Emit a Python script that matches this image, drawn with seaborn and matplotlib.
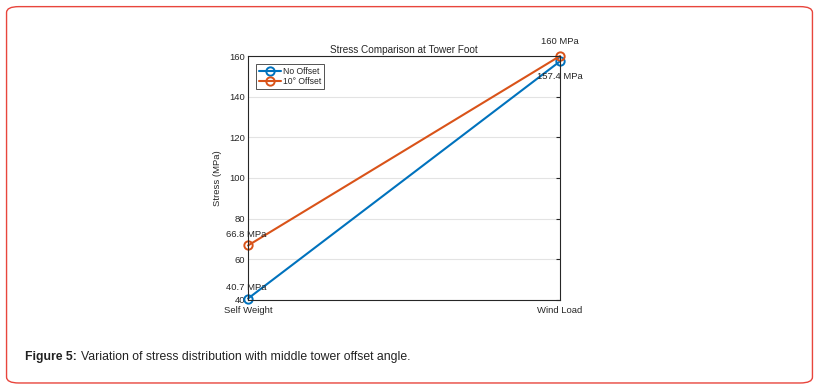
import matplotlib
matplotlib.use('Agg')
import matplotlib.pyplot as plt
from matplotlib.patches import FancyBboxPatch
from matplotlib.lines import Line2D
import seaborn as sns
import pandas as pd

# 数据
load_cases = ['Self Weight', 'Wind Load']
no_offset = [40.7, 157.4]
offset_10 = [66.8, 160.0]
series_names = ['No Offset', '10° Offset']
colors = ['#0072BD', '#D95319']

df = pd.DataFrame({
    'case': load_cases * 2,
    'pos': [0, 1] * 2,
    'stress': no_offset + offset_10,
    'series': [series_names[0]] * 2 + [series_names[1]] * 2,
})

sns.set_style('white')
plt.rcParams['font.family'] = ['Liberation Sans', 'DejaVu Sans']

fig = plt.figure(figsize=(8.19, 3.9), dpi=100)
ax = fig.add_axes([0.3028, 0.2308, 0.381, 0.6256])

sns.lineplot(data=df, x='pos', y='stress', hue='series', palette=colors,
             marker='o', markersize=6, linewidth=1.5, ax=ax, legend=False)
for line, c in zip(ax.get_lines(), colors):
    line.set_markeredgecolor(c)
    line.set_markerfacecolor('none')
    line.set_markeredgewidth(1.4)
    line.set_clip_on(False)

ax.set_xlim(0, 1)
ax.set_ylim(40, 160)
ax.set_xticks([0, 1])
ax.set_xticklabels(load_cases)
ax.set_yticks([40, 60, 80, 100, 120, 140, 160])
ax.yaxis.grid(True, color='#e3e3e3', linewidth=0.8)
ax.set_axisbelow(True)
ax.tick_params(axis='both', direction='in', length=3, labelsize=6.8, colors='#262626',
               top=False, right=True, pad=2)
ax.tick_params(axis='x', pad=4)
for s in ax.spines.values():
    s.set_color('#262626')
    s.set_linewidth(0.8)
ax.set_xlabel('')
ax.set_ylabel('Stress (MPa)', fontsize=6.8, color='#262626', labelpad=5)
ax.set_title('Stress Comparison at Tower Foot', fontsize=7.2, color='#262626', pad=2)

# 数值标注
ax.text(1, offset_10[1] + 5, '%g MPa' % offset_10[1], fontsize=6.8, ha='center', va='bottom', color='#262626')
ax.text(0.925, no_offset[1] - 7.5, '%g MPa' % no_offset[1], fontsize=6.8, ha='left', va='center', color='#262626')
ax.text(-0.07, offset_10[0] + 5.5, '%g MPa' % offset_10[0], fontsize=6.8, ha='left', va='center', color='#262626')
ax.text(-0.07, no_offset[0] + 5.5, '%g MPa' % no_offset[0], fontsize=6.8, ha='left', va='center', color='#262626')

handles = [Line2D([], [], color=c, linewidth=1.5, marker='o', markersize=6,
                  markerfacecolor='none', markeredgecolor=c, markeredgewidth=1.4) for c in colors]
leg = ax.legend(handles, series_names, loc='upper left', fontsize=6.2, frameon=True, fancybox=False,
                handlelength=2.6, borderpad=0.3, labelspacing=0.2, handletextpad=0.2,
                bbox_to_anchor=(0.012, 0.985))
leg.get_frame().set_edgecolor('#262626')
leg.get_frame().set_linewidth(0.7)

# 外框和图注
border = FancyBboxPatch((0.008, 0.018), 0.984, 0.965, boxstyle='round,pad=0,rounding_size=0.015',
                        transform=fig.transFigure, facecolor='none', edgecolor='#E8453C', linewidth=1.0)
fig.patches.append(border)
t1 = fig.text(0.031, 0.085, 'Figure 5:', fontsize=8.8, fontweight='bold', color='#222222', va='center')
fig.canvas.draw()
bb = t1.get_window_extent().transformed(fig.transFigure.inverted())
fig.text(bb.x1 + 0.004, 0.085, 'Variation of stress distribution with middle tower offset angle.',
         fontsize=8.8, color='#222222', va='center')

plt.savefig('out.png', dpi=100)
